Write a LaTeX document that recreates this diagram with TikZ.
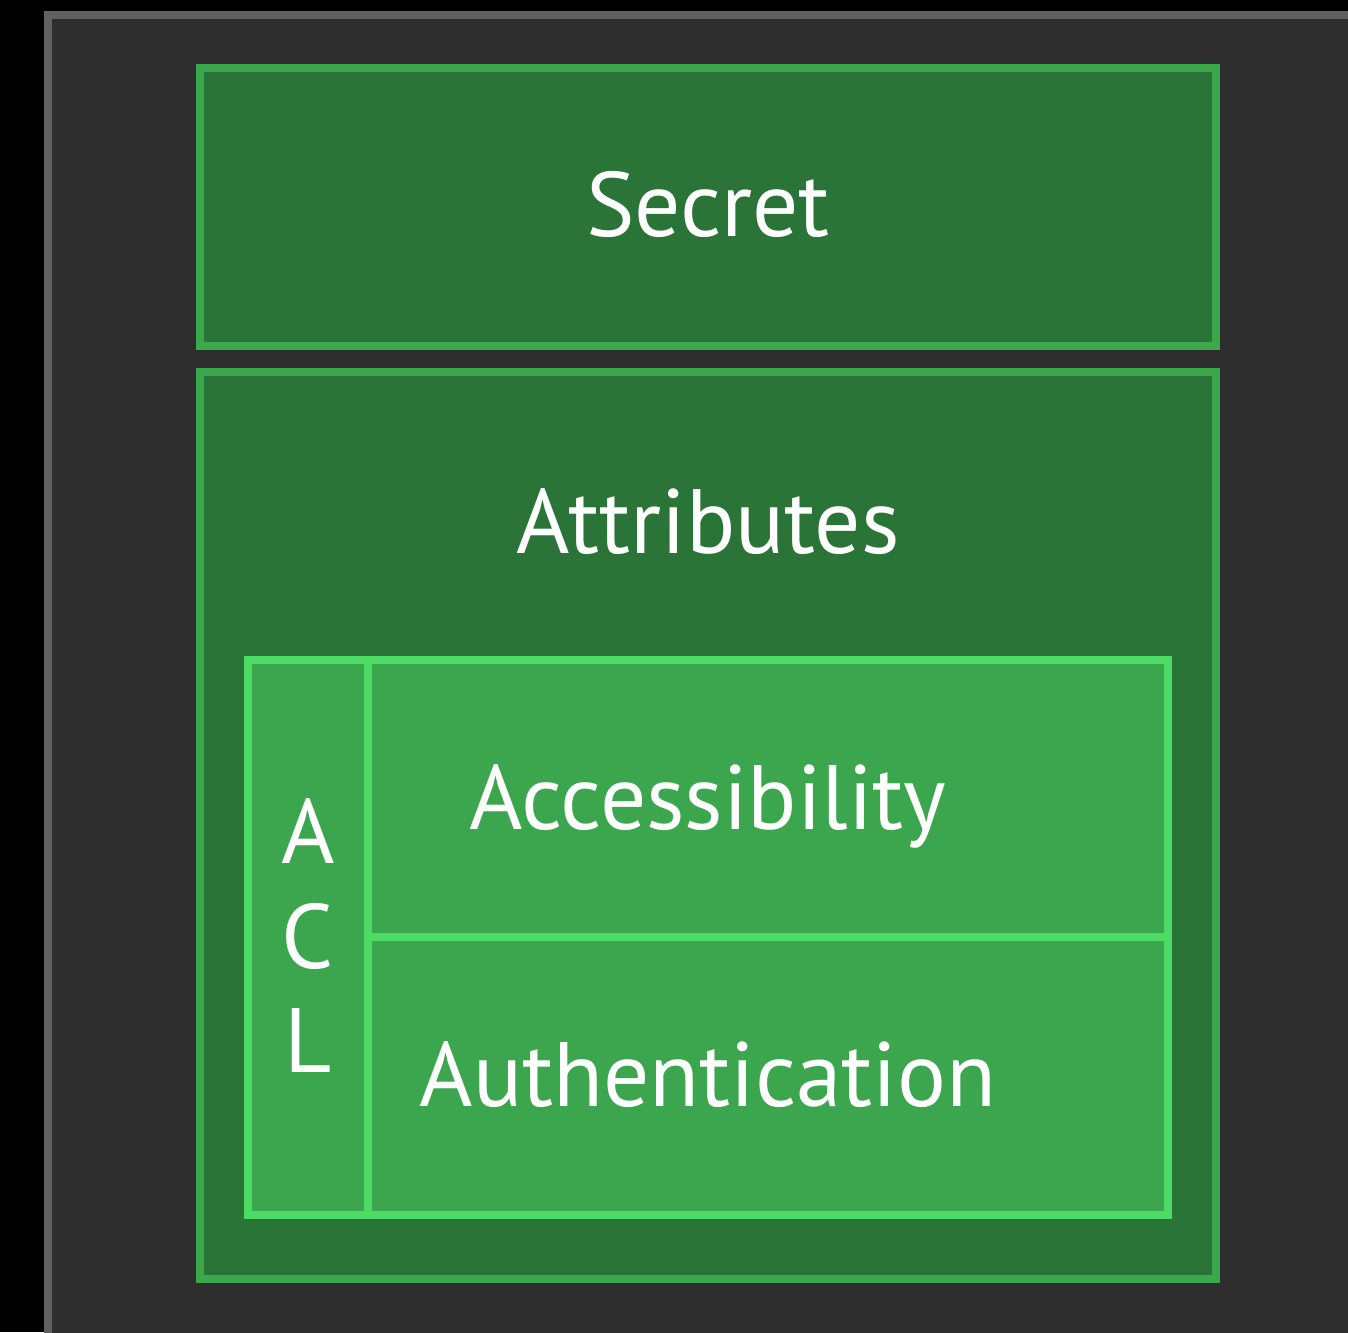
\documentclass[tikz,border=0pt]{standalone}
\usepackage{fontspec}
\setmainfont{PT Sans}
\usetikzlibrary{positioning}

\definecolor{framegray}{HTML}{616161}
\definecolor{panel}{HTML}{2E2E2E}
\definecolor{boxedge}{HTML}{3BA84B}
\definecolor{boxfill}{HTML}{2B7438}
\definecolor{celledge}{HTML}{4CDB65}
\definecolor{cellfill}{HTML}{3BA64D}

\begin{document}
\begin{tikzpicture}[x=0.01cm, y=-0.01cm,
  every node/.style={font=\fontsize{26pt}{31pt}\selectfont, text=white},
  outerbox/.style={draw=boxedge, fill=boxfill, line width=0.08cm, inner sep=0pt, minimum width=10.16cm},
  innerbox/.style={draw=celledge, fill=cellfill, line width=0.08cm, inner sep=0pt},
  caption/.style={anchor=base}]
  \useasboundingbox (0,0) rectangle (1348,1332);
  \fill[black] (0,0) rectangle (1348,1332);
  \begin{scope}
    \clip (0,0) rectangle (1348,1332);
    \draw[draw=framegray, fill=panel, line width=0.08cm] (48,15) rectangle (1400,1400);
  \end{scope}

  % secret and attributes
  \node[outerbox, minimum height=2.78cm] (secret) at (708,207) {};
  \node[outerbox, minimum height=9.07cm] (attrs) at (708,825.5) {};

  % acl cells
  \node[innerbox, minimum width=1.2cm, minimum height=5.55cm] (acl) at (308,937.5) {};
  \node[innerbox, minimum width=8cm, minimum height=2.77cm] (access) at (768,798.5) {};
  \node[innerbox, minimum width=8cm, minimum height=2.78cm] (auth) at (768,1076) {};

  \node[caption] (secretlbl) at (708,236) {Secret};
  \node[caption] (attrslbl) at (708,553) {Attributes};
  \node[caption] (accesslbl) at (708,829) {Accessibility};
  \node[caption] (authlbl) at (708,1106) {Authentication};
  \node[caption] (aclA) at (308,863) {A};
  \node[caption] (aclC) at (308,968) {C};
  \node[caption] (aclL) at (308,1072) {L};
\end{tikzpicture}
\end{document}
